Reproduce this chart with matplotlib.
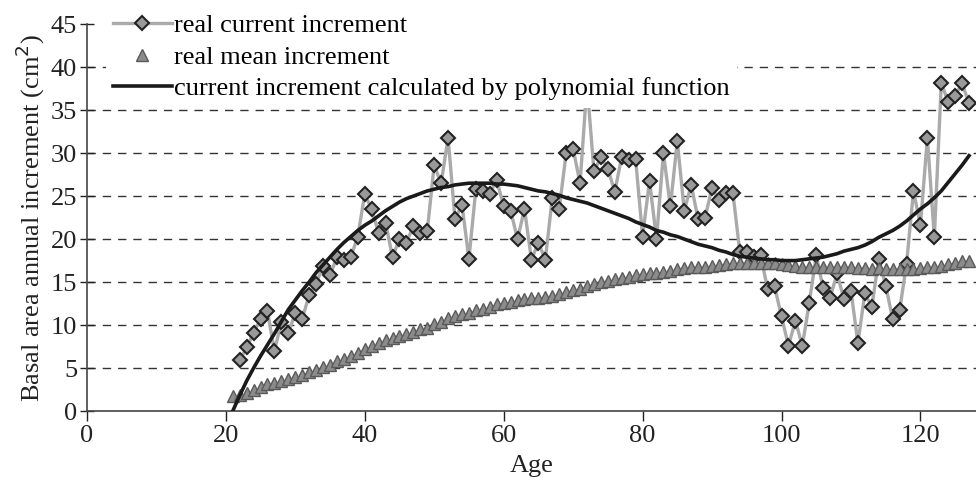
import numpy as np
import matplotlib.pyplot as plt

plt.rcParams['font.family'] = ['Liberation Serif', 'DejaVu Serif']

# ages of the two measured series
age_current = list(range(22, 128))
age_mean = list(range(21, 128))
age_poly = list(range(21, 128))

# real current increment (cm2)
current = [5.9, 7.4, 9.1, 10.7, 11.6, 7.0, 10.3, 9.1, 11.4, 10.7,
           13.5, 14.8, 16.9, 15.8, 17.9, 17.6, 17.9, 20.3, 25.2, 23.5,
           20.7, 21.9, 17.9, 20.0, 19.6, 21.5, 20.7, 20.9, 28.6, 26.5,
           31.8, 22.3, 24.0, 17.7, 25.8, 25.6, 25.3, 26.9, 23.8, 23.3,
           20.0, 23.5, 17.6, 19.6, 17.6, 24.8, 23.5, 30.0, 30.5, 26.5,
           38.0, 27.9, 29.5, 28.2, 25.5, 29.6, 29.2, 29.3, 20.3, 26.8,
           20.0, 30.0, 23.8, 31.4, 23.3, 26.3, 22.3, 22.5, 26.0, 24.5,
           25.4, 25.4, 18.5, 18.5, 17.9, 18.1, 14.2, 14.5, 11.0, 7.6,
           10.5, 7.6, 12.6, 18.1, 14.3, 13.2, 16.0, 13.0, 14.0, 7.9,
           13.7, 12.1, 17.7, 14.6, 10.7, 11.7, 17.1, 25.6, 21.6, 31.8,
           20.2, 38.1, 36.0, 36.7, 38.1, 35.8]

# real mean increment (cm2)
mean = [1.7, 1.9, 2.1, 2.4, 2.8, 3.1, 3.3, 3.5, 3.7, 4.0,
        4.2, 4.5, 4.8, 5.1, 5.4, 5.8, 6.1, 6.4, 6.8, 7.2,
        7.6, 7.9, 8.3, 8.5, 8.7, 9.0, 9.2, 9.5, 9.7, 10.1,
        10.4, 10.8, 11.0, 11.3, 11.4, 11.7, 11.9, 12.1, 12.4, 12.6,
        12.7, 12.9, 13.0, 13.1, 13.2, 13.3, 13.4, 13.6, 13.8, 14.1,
        14.2, 14.6, 14.8, 15.0, 15.1, 15.3, 15.5, 15.6, 15.8, 15.9,
        16.0, 16.0, 16.2, 16.3, 16.5, 16.6, 16.7, 16.7, 16.8, 16.9,
        17.0, 17.1, 17.2, 17.2, 17.2, 17.2, 17.2, 17.2, 17.2, 17.1,
        17.0, 16.9, 16.8, 16.8, 16.8, 16.8, 16.8, 16.8, 16.7, 16.7,
        16.6, 16.6, 16.5, 16.6, 16.5, 16.5, 16.5, 16.5, 16.5, 16.6,
        16.7, 16.7, 16.9, 17.1, 17.2, 17.4, 17.5]

# current increment calculated by polynomial function (cm2)
poly = [0.0, 1.8, 3.5, 5.0, 6.4, 7.7, 9.0, 10.4, 11.8, 12.9,
        14.0, 15.0, 16.1, 17.0, 17.9, 18.8, 19.6, 20.3, 21.0, 21.6,
        22.1, 22.7, 23.3, 23.8, 24.3, 24.7, 25.0, 25.3, 25.6, 25.8,
        26.0, 26.1, 26.3, 26.4, 26.5, 26.5, 26.5, 26.5, 26.4, 26.4,
        26.3, 26.2, 26.0, 25.8, 25.6, 25.5, 25.3, 25.1, 24.8, 24.6,
        24.4, 24.2, 23.9, 23.6, 23.3, 23.0, 22.7, 22.4, 22.0, 21.7,
        21.4, 21.0, 20.8, 20.5, 20.3, 20.0, 19.7, 19.4, 19.2, 19.0,
        18.7, 18.5, 18.2, 18.0, 17.9, 17.8, 17.7, 17.6, 17.6, 17.5,
        17.5, 17.5, 17.6, 17.7, 17.8, 17.9, 18.1, 18.3, 18.6, 18.8,
        19.0, 19.3, 19.7, 20.2, 20.6, 21.0, 21.5, 22.1, 22.8, 23.5,
        24.1, 24.8, 25.6, 26.6, 27.6, 28.6, 29.7]

xticks = [0, 20, 40, 60, 80, 100, 120]
yticks = [0, 5, 10, 15, 20, 25, 30, 35, 40, 45]

fig = plt.figure(figsize=(9.76, 4.83), dpi=100)
ax = fig.add_axes([0.089, 0.149, 0.911, 0.801])

ax.plot(age_current, current, color='#aaaaaa', lw=2.4, marker='D', markersize=7,
        markerfacecolor='#999999', markeredgecolor='#222222', markeredgewidth=1.5,
        label='real current increment', zorder=3)
ax.plot(age_mean, mean, linestyle='none', marker='^', markersize=8.5,
        markerfacecolor='#8c8c8c', markeredgecolor='#5a5a5a', markeredgewidth=1.0,
        label='real mean increment', zorder=4)
ax.plot(age_poly, poly, color='#1a1a1a', lw=2.6, label='current increment calculated by polynomial function',
        zorder=5)

ax.set_xlim(0, 128)
ax.set_ylim(0, 45)
ax.set_xticks(xticks)
ax.set_yticks(yticks)
ax.tick_params(axis='both', labelsize=19, colors='#222222')
ax.tick_params(axis='y', direction='inout', length=10, width=1, pad=2)
ax.tick_params(axis='x', direction='out', length=7, width=1, pad=3)

ax.yaxis.grid(True, linestyle=(0, (6, 5)), color='#333333', lw=1.0)
ax.get_ygridlines()[-1].set_visible(False)
ax.get_ygridlines()[0].set_visible(False)
ax.set_axisbelow(True)

for s in ['top', 'right']:
    ax.spines[s].set_visible(False)
for s in ['left', 'bottom']:
    ax.spines[s].set_color('#444444')
    ax.spines[s].set_linewidth(1.2)

ax.set_xlabel('Age', fontsize=19, color='#222222', labelpad=6)
ax.set_ylabel('Basal area annual increment (cm$^2$)', fontsize=19, color='#222222', labelpad=3)

leg = ax.legend(loc='upper left', bbox_to_anchor=(0.021, 1.047), borderaxespad=0,
                fontsize=19, frameon=True, facecolor='white', edgecolor='none', framealpha=1,
                fancybox=False, handlelength=2.2, handletextpad=0.08, labelspacing=0.3,
                borderpad=0.3)
leg.set_zorder(10)

plt.savefig('out.png', dpi=100)
